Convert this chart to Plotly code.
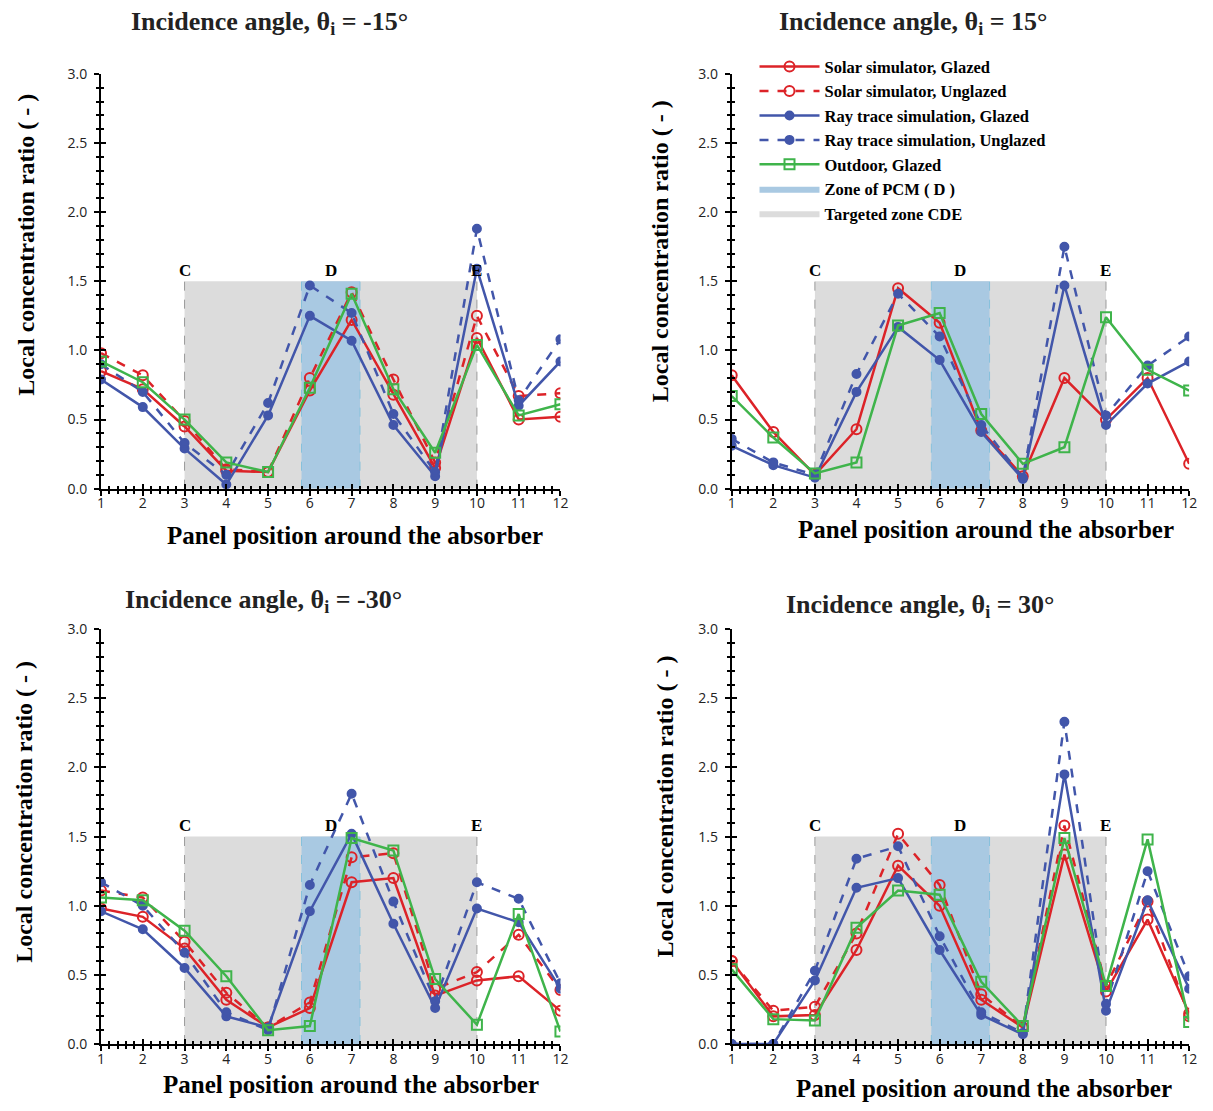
import plotly.graph_objects as go

positions = [1, 2, 3, 4, 5, 6, 7, 8, 9, 10, 11, 12]

# theta = -15
solar_glazed_m15 = [0.85, 0.72, 0.45, 0.13, 0.12, 0.71, 1.22, 0.68, 0.15, 1.09, 0.50, 0.52]
solar_unglazed_m15 = [0.98, 0.82, 0.49, 0.14, 0.12, 0.80, 1.42, 0.79, 0.19, 1.25, 0.67, 0.69]
ray_glazed_m15 = [0.79, 0.59, 0.29, 0.03, 0.53, 1.25, 1.07, 0.46, 0.09, 1.59, 0.60, 0.92]
ray_unglazed_m15 = [0.90, 0.70, 0.33, 0.10, 0.62, 1.47, 1.27, 0.54, 0.12, 1.88, 0.64, 1.08]
outdoor_m15 = [0.92, 0.77, 0.50, 0.19, 0.12, 0.73, 1.41, 0.72, 0.26, 1.04, 0.53, 0.61]

# theta = 15
solar_glazed_15 = [0.82, 0.41, 0.10, 0.43, 1.45, 1.20, 0.42, 0.09, 0.80, 0.50, 0.80, 0.18]
ray_glazed_15 = [0.31, 0.17, 0.08, 0.70, 1.17, 0.93, 0.41, 0.07, 1.47, 0.46, 0.76, 0.92]
ray_unglazed_15 = [0.36, 0.19, 0.10, 0.83, 1.41, 1.10, 0.46, 0.08, 1.75, 0.53, 0.89, 1.10]
outdoor_15 = [0.67, 0.37, 0.11, 0.19, 1.18, 1.27, 0.54, 0.18, 0.30, 1.24, 0.86, 0.71]

# theta = -30
solar_glazed_m30 = [0.98, 0.92, 0.69, 0.32, 0.12, 0.26, 1.17, 1.20, 0.35, 0.46, 0.49, 0.24]
solar_unglazed_m30 = [1.11, 1.06, 0.74, 0.37, 0.12, 0.30, 1.35, 1.38, 0.40, 0.52, 0.79, 0.39]
ray_glazed_m30 = [0.96, 0.83, 0.55, 0.20, 0.12, 0.96, 1.52, 0.87, 0.26, 0.98, 0.88, 0.40]
ray_unglazed_m30 = [1.17, 1.00, 0.66, 0.23, 0.10, 1.15, 1.81, 1.03, 0.31, 1.17, 1.05, 0.44]
outdoor_m30 = [1.06, 1.04, 0.82, 0.49, 0.10, 0.13, 1.49, 1.40, 0.47, 0.14, 0.94, 0.09]

# theta = 30
solar_glazed_30 = [0.60, 0.20, 0.21, 0.68, 1.29, 1.00, 0.32, 0.12, 1.37, 0.38, 0.90, 0.22]
solar_unglazed_30 = [0.60, 0.24, 0.27, 0.80, 1.52, 1.15, 0.36, 0.12, 1.58, 0.42, 1.03, 0.20]
ray_glazed_30 = [0.00, 0.00, 0.46, 1.13, 1.20, 0.68, 0.21, 0.07, 1.95, 0.24, 1.04, 0.40]
ray_unglazed_30 = [0.00, 0.00, 0.53, 1.34, 1.43, 0.78, 0.23, 0.08, 2.33, 0.29, 1.25, 0.49]
outdoor_30 = [0.54, 0.18, 0.17, 0.84, 1.11, 1.08, 0.45, 0.13, 1.49, 0.42, 1.48, 0.16]

titles = ["Incidence angle, θ<sub>i</sub> = -15°", "Incidence angle, θ<sub>i</sub> = 15°",
          "Incidence angle, θ<sub>i</sub> = -30°", "Incidence angle, θ<sub>i</sub> = 30°"]
zone_labels = ["C", "D", "E"]
zone_label_x = [3.0, 6.5, 10.0]
cde_zone = [3, 10]
pcm_zone = [5.8, 7.2]
zone_top = 1.5

series_names = ["Solar simulator, Glazed", "Solar simulator, Unglazed",
                "Ray trace simulation, Glazed", "Ray trace simulation, Unglazed",
                "Outdoor, Glazed"]

panels = [
    [solar_glazed_m15, solar_unglazed_m15, ray_glazed_m15, ray_unglazed_m15, outdoor_m15],
    [solar_glazed_15, None, ray_glazed_15, ray_unglazed_15, outdoor_15],
    [solar_glazed_m30, solar_unglazed_m30, ray_glazed_m30, ray_unglazed_m30, outdoor_m30],
    [solar_glazed_30, solar_unglazed_30, ray_glazed_30, ray_unglazed_30, outdoor_30],
]

RED = "#dc2328"
BLUE = "#4256aa"
GREEN = "#3fb44b"
GRAY_ZONE = "#dcdcdc"
BLUE_ZONE = "#a9c9e2"

styles = [
    dict(color=RED, dash="solid", symbol="circle-open", size=10),
    dict(color=RED, dash="dash", symbol="circle-open", size=10),
    dict(color=BLUE, dash="solid", symbol="circle", size=8),
    dict(color=BLUE, dash="dash", symbol="circle", size=8),
    dict(color=GREEN, dash="solid", symbol="square-open", size=10),
]

W, H = 1213, 1111
# pixel boxes (left, right, top, bottom)
boxes = [(98, 562, 65, 487), (735, 1197, 65, 487), (98, 562, 630, 1052), (735, 1197, 630, 1052)]

SERIF = "Liberation Serif"
fig = go.Figure()

for i, data in enumerate(panels):
    n = i + 1
    xa = "x" if n == 1 else f"x{n}"
    ya = "y" if n == 1 else f"y{n}"
    # zones
    fig.add_trace(go.Scatter(
        x=[cde_zone[0], cde_zone[1], cde_zone[1], cde_zone[0], cde_zone[0]],
        y=[0, 0, zone_top, zone_top, 0], fill="toself", fillcolor=GRAY_ZONE,
        mode="lines", line=dict(width=0), name="Targeted zone CDE",
        showlegend=(i == 0), legendrank=1007, hoverinfo="skip", xaxis=xa, yaxis=ya))
    fig.add_trace(go.Scatter(
        x=[pcm_zone[0], pcm_zone[1], pcm_zone[1], pcm_zone[0], pcm_zone[0]],
        y=[0, 0, zone_top, zone_top, 0], fill="toself", fillcolor=BLUE_ZONE,
        mode="lines", line=dict(width=0), name="Zone of PCM ( D )",
        showlegend=(i == 0), legendrank=1006, hoverinfo="skip", xaxis=xa, yaxis=ya))
    for xv in cde_zone:
        fig.add_trace(go.Scatter(x=[xv, xv], y=[0, zone_top], mode="lines",
                                 line=dict(color="#9a9a9a", width=1, dash="dash"),
                                 showlegend=False, hoverinfo="skip", xaxis=xa, yaxis=ya))
    for xv in pcm_zone:
        fig.add_trace(go.Scatter(x=[xv, xv], y=[0, zone_top], mode="lines",
                                 line=dict(color="#86c1dc", width=1, dash="dash"),
                                 showlegend=False, hoverinfo="skip", xaxis=xa, yaxis=ya))
    for k, vals in enumerate(data):
        if vals is None:
            continue
        st = styles[k]
        fig.add_trace(go.Scatter(
            x=positions, y=vals, mode="lines+markers", name=series_names[k],
            line=dict(color=st["color"], width=2.5, dash=st["dash"]),
            marker=dict(symbol=st["symbol"], size=st["size"], color=st["color"],
                        line=dict(width=2, color=st["color"])),
            showlegend=(i == 0), legendrank=1000 + k, xaxis=xa, yaxis=ya))
    # invisible trace for overlay axes (inside half of crossing ticks)
    fig.add_trace(go.Scatter(x=[1], y=[0], mode="markers", marker=dict(opacity=0),
                             showlegend=False, hoverinfo="skip",
                             xaxis=f"x{n+4}", yaxis=f"y{n+4}"))

tickfont = dict(family="Open Sans", size=14, color="#222")
for i, (l, r, t, b) in enumerate(boxes):
    n = i + 1
    xd = [l / W, r / W]
    yd = [1 - b / H, 1 - t / H]
    kx = "xaxis" if n == 1 else f"xaxis{n}"
    ky = "yaxis" if n == 1 else f"yaxis{n}"
    ya = "y" if n == 1 else f"y{n}"
    xa = "x" if n == 1 else f"x{n}"
    fig.layout[kx] = dict(domain=xd, anchor=ya, range=[1, 12], showgrid=False, zeroline=False,
                          showline=True, linecolor="black", linewidth=2,
                          tickmode="linear", tick0=1, dtick=1, ticks="outside", ticklen=5,
                          tickwidth=2, tickcolor="black", tickfont=tickfont,
                          ticklabelstandoff=-4,
                          minor=dict(dtick=0.2, tick0=1, ticks="outside", ticklen=3,
                                     tickwidth=1.5, tickcolor="black"))
    fig.layout[ky] = dict(domain=yd, anchor=xa, range=[0, 3], showgrid=False, zeroline=False,
                          showline=True, linecolor="black", linewidth=2,
                          tickmode="linear", tick0=0, dtick=0.5, tickformat=".1f",
                          ticks="outside", ticklen=5, tickwidth=2, tickcolor="black",
                          tickfont=tickfont, ticklabelstandoff=4,
                          minor=dict(dtick=0.1, ticks="outside", ticklen=3,
                                     tickwidth=1.5, tickcolor="black"))
    fig.layout[f"xaxis{n+4}"] = dict(overlaying=xa, anchor=f"y{n+4}", range=[1, 12],
                                     showgrid=False, zeroline=False, showline=False,
                                     showticklabels=False, tickmode="linear", tick0=1, dtick=1,
                                     ticks="inside", ticklen=5, tickwidth=2, tickcolor="black",
                                     minor=dict(dtick=0.2, tick0=1, ticks="inside", ticklen=3,
                                                tickwidth=1.5, tickcolor="black"))
    fig.layout[f"yaxis{n+4}"] = dict(overlaying=ya, anchor=f"x{n+4}", range=[0, 3],
                                     showgrid=False, zeroline=False, showline=False,
                                     showticklabels=False, tickmode="linear", tick0=0, dtick=0.5,
                                     ticks="inside", ticklen=5, tickwidth=2, tickcolor="black",
                                     minor=dict(dtick=0.1, ticks="inside", ticklen=3,
                                                tickwidth=1.5, tickcolor="black"))
    # C D E labels
    for lab, lx in zip(zone_labels, zone_label_x):
        fig.add_annotation(x=lx, y=1.58, xref=xa, yref=ya, text=lab, showarrow=False,
                           font=dict(family=SERIF, size=17, color="black", weight="bold"))

title_pos = [(268, 13), (918, 13), (262, 601), (925, 606)]
xtitle_pos = [(355, 535), (992, 529), (350, 1093), (990, 1097)]
ytitle_pos = [(22, 239), (662, 245), (20, 816), (668, 810)]
for i in range(4):
    tx, ty = title_pos[i]
    fig.add_annotation(x=tx / W, y=1 - ty / H, xref="paper", yref="paper", text=titles[i],
                       showarrow=False, xanchor="center", yanchor="middle",
                       font=dict(family=SERIF, size=26, color="#222", weight="bold"))
    tx, ty = xtitle_pos[i]
    fig.add_annotation(x=tx / W, y=1 - ty / H, xref="paper", yref="paper",
                       text="Panel position around the absorber",
                       showarrow=False, xanchor="center", yanchor="middle",
                       font=dict(family=SERIF, size=25, color="black", weight="bold"))
    tx, ty = ytitle_pos[i]
    fig.add_annotation(x=tx / W, y=1 - ty / H, xref="paper", yref="paper",
                       text="Local concentration ratio ( - )", textangle=-90,
                       showarrow=False, xanchor="center", yanchor="middle",
                       font=dict(family=SERIF, size=24, color="black", weight="bold"))

fig.update_layout(
    width=W, height=H, margin=dict(l=0, r=0, t=0, b=0),
    paper_bgcolor="white", plot_bgcolor="rgba(0,0,0,0)",
    showlegend=True,
    legend=dict(x=758 / W, y=1 - 40 / H, xanchor="left", yanchor="top",
                bgcolor="rgba(0,0,0,0)", tracegroupgap=0, itemwidth=60,
                font=dict(family=SERIF, size=16.5, color="black", weight="bold")),
)

fig.write_html("out.html")
